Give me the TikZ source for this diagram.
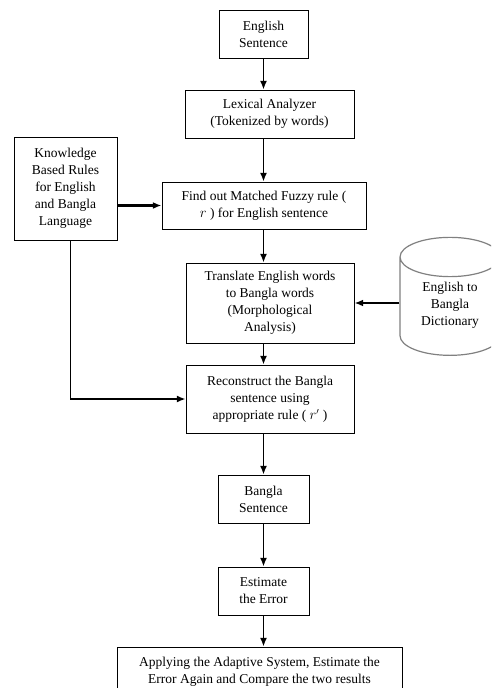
\documentclass[tikz,border=0pt]{standalone}
\usepackage{fontspec}
\setmainfont{Liberation Serif}
\usetikzlibrary{shapes,arrows}
\usetikzlibrary{arrows.meta}
\usetikzlibrary{shapes.geometric}
\tikzset{
  fcbox/.style={rectangle, draw, line width=1pt, align=center, inner sep=1pt,
    font=\fontsize{13.5}{17}\selectfont},
  fcstore/.style={cylinder, shape border rotate=90, draw=gray, line width=1.2pt,
    aspect=0.61, minimum width=100pt, minimum height=118pt,
    font=\fontsize{13.5}{17}\selectfont},
  fcarrow/.style={-{Latex[length=3mm,width=2.4mm]}, line width=1.4pt},
  fcside/.style={-{Latex[length=3mm,width=2.4mm]}, line width=2.2pt}
}
\newcommand{\fcprocess}[5] {\node at (#1) (#2) [fcbox, minimum width=#3, minimum height=#4] {#5};}
\newcommand{\fcflow}[2] {\draw [fcarrow] (#1) -- (#2);}
\newcommand{\fcraised}[1] {\raisebox{5pt}[\height][\depth]{\begin{tabular}{@{}c@{}}#1\end{tabular}}}

\begin{document}
\begin{tikzpicture}[x=1pt,y=-1pt]
\useasboundingbox (0,0) rectangle (491,688);
\clip (0,0) rectangle (491,688);

\fcprocess {263.5,34} {eng} {89pt} {48pt} {English\\Sentence};
\fcprocess {269.5,114} {lex} {169pt} {48pt} {Lexical Analyzer\\(Tokenized by words)};
\fcprocess {65.5,188.5} {know} {103pt} {103pt} {Knowledge\\Based Rules\\for English\\and Bangla\\Language};
\fcprocess {264,205.5} {find} {204pt} {47pt} {Find out Matched Fuzzy rule (\\$r$ ) for English sentence};
\fcprocess {270,303} {trans} {168pt} {80pt} {Translate English words\\to Bangla words\\(Morphological\\Analysis)};
\node at (450,310) (dict) [fcstore] {\fcraised{English to\\Bangla\\Dictionary}};
\fcprocess {270,399} {recon} {168pt} {68pt} {Reconstruct the Bangla\\sentence using\\appropriate rule ( $r'$ )};
\fcprocess {263.5,499} {bangla} {91pt} {48pt} {Bangla\\Sentence};
\fcprocess {263.5,591} {est} {91pt} {48pt} {Estimate\\the Error};
\fcprocess {259.5,672} {apply} {285pt} {50pt} {Applying the Adaptive System, Estimate the\\Error Again and Compare the two results};

\fcflow{eng}{lex.north -| eng.south};
\fcflow{lex.south -| eng.south}{find.north -| eng.south};
\fcflow{find.south -| eng.south}{trans.north -| eng.south};
\fcflow{trans.south -| eng.south}{recon.north -| eng.south};
\fcflow{recon.south -| eng.south}{bangla};
\fcflow{bangla}{est};
\fcflow{est}{apply.north -| est.south};

\draw [fcside] (know.east |- find.west) -- (find.west);
\draw [fcside] (dict.west |- trans.east) -- (trans.east);
\draw [fcarrow] ([xshift=5pt]know.south) |- (recon.west);
\end{tikzpicture}
\end{document}
